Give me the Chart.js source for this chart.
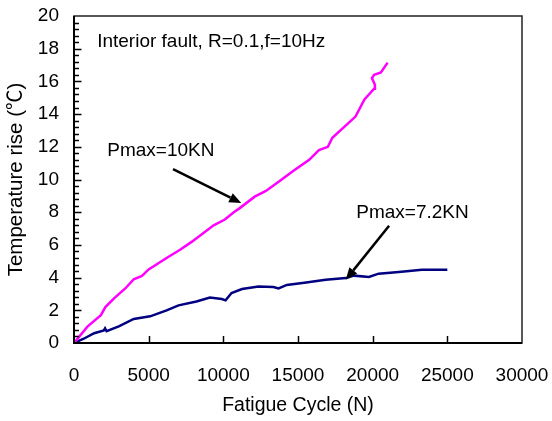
<!DOCTYPE html>
<html>
<head>
<meta charset="utf-8">
<script src="https://cdn.jsdelivr.net/npm/chart.js@4"></script>
<style>
  html, body { margin: 0; padding: 0; background: #fff; }
  #wrap { width: 552px; height: 421px; }
</style>
</head>
<body>
<div id="wrap"><canvas id="chart"></canvas></div>
<script>
// values
const cycles10 = [0, 900, 1800, 2100, 2700, 3450, 4000, 4550, 5000, 6200, 7100, 7900, 9350, 10100, 10700, 11100, 12100, 12850, 13750, 14650, 15750, 16400, 17000, 17300, 18850, 19450, 20100, 20150, 19950, 20100, 20550, 21000];
const rise10   = [0, 1.0, 1.7, 2.2, 2.75, 3.35, 3.9, 4.1, 4.5, 5.2, 5.7, 6.2, 7.2, 7.55, 8.0, 8.25, 8.95, 9.3, 9.9, 10.5, 11.2, 11.8, 12.0, 12.55, 13.85, 14.9, 15.55, 15.8, 16.2, 16.4, 16.55, 17.15];

const cycles72 = [0, 650, 1350, 2000, 2080, 2180, 3000, 4000, 5100, 6200, 7000, 8200, 9100, 9900, 10150, 10550, 11250, 12350, 13350, 13700, 14250, 15550, 16850, 18200, 18750, 19750, 20400, 21750, 23300, 25000];
const rise72   = [0, 0.26, 0.6, 0.77, 0.9, 0.72, 1.02, 1.47, 1.63, 2.0, 2.3, 2.54, 2.78, 2.69, 2.61, 3.06, 3.3, 3.46, 3.42, 3.34, 3.55, 3.7, 3.87, 3.97, 4.12, 4.04, 4.24, 4.34, 4.48, 4.48];

const xTicks = [0, 5000, 10000, 15000, 20000, 25000, 30000];
const yTicks = [0, 2, 4, 6, 8, 10, 12, 14, 16, 18, 20];

// labels and arrows, placed in data units
const notes = [
  { text: 'Interior fault, R=0.1,f=10Hz', x: 1550, y: 18.45 },
  { text: 'Pmax=10KN', x: 2230, y: 11.75 },
  { text: 'Pmax=7.2KN', x: 18900, y: 7.95 }
];
const arrows = [
  { from: [6630, 10.64], to: [11200, 8.56] },
  { from: [21100, 7.17], to: [18200, 3.87] }
];

const FONT = 'Liberation Sans, Arial, "Noto Sans CJK SC", sans-serif';

function toPoints(xs, ys) {
  return xs.map((x, i) => ({ x: x, y: ys[i] }));
}

const framePlugin = {
  id: 'frame',
  afterDraw(chart) {
    const ctx = chart.ctx;
    const a = chart.chartArea;
    const xs = chart.scales.x, ys = chart.scales.y;
    ctx.save();
    ctx.strokeStyle = '#000';

    // inside ticks on y: minor every 0.4, major every 2
    ctx.lineWidth = 1.5;
    for (let i = 1; i < 50; i++) {
      const v = i * 0.4;
      const py = Math.round(ys.getPixelForValue(v)) + 0.5;
      const len = (i % 5 === 0) ? 7.5 : 5;
      ctx.beginPath();
      ctx.moveTo(a.left, py);
      ctx.lineTo(a.left + len, py);
      ctx.stroke();
    }
    // inside ticks on x
    xTicks.slice(1, -1).forEach(v => {
      const px = Math.round(xs.getPixelForValue(v)) + 0.5;
      ctx.beginPath();
      ctx.moveTo(px, a.bottom);
      ctx.lineTo(px, a.bottom - 7);
      ctx.stroke();
    });

    // plot box
    ctx.lineWidth = 1.5;
    ctx.strokeStyle = '#222';
    ctx.strokeRect(a.left, a.top, a.right - a.left, a.bottom - a.top);
    ctx.strokeStyle = '#000';
    ctx.lineWidth = 2;
    ctx.beginPath();
    ctx.moveTo(a.left, a.top);
    ctx.lineTo(a.left, a.bottom);
    ctx.lineTo(a.right, a.bottom);
    ctx.stroke();

    // text notes
    ctx.fillStyle = '#000';
    ctx.font = '19px ' + FONT;
    ctx.textAlign = 'left';
    ctx.textBaseline = 'middle';
    notes.forEach(n => {
      ctx.fillText(n.text, xs.getPixelForValue(n.x), ys.getPixelForValue(n.y));
    });

    // arrows
    arrows.forEach(ar => {
      const x1 = xs.getPixelForValue(ar.from[0]), y1 = ys.getPixelForValue(ar.from[1]);
      const x2 = xs.getPixelForValue(ar.to[0]), y2 = ys.getPixelForValue(ar.to[1]);
      const ang = Math.atan2(y2 - y1, x2 - x1);
      const head = 12, half = 5;
      const bx = x2 - head * Math.cos(ang), by = y2 - head * Math.sin(ang);
      ctx.lineWidth = 2.5;
      ctx.beginPath();
      ctx.moveTo(x1, y1);
      ctx.lineTo(bx, by);
      ctx.stroke();
      ctx.beginPath();
      ctx.moveTo(x2, y2);
      ctx.lineTo(bx + half * Math.sin(ang), by - half * Math.cos(ang));
      ctx.lineTo(bx - half * Math.sin(ang), by + half * Math.cos(ang));
      ctx.closePath();
      ctx.fill();
    });
    ctx.restore();
  }
};

new Chart(document.getElementById('chart'), {
  type: 'line',
  data: {
    datasets: [
      {
        label: 'Pmax=10KN',
        data: toPoints(cycles10, rise10),
        borderColor: '#ff00ff',
        borderWidth: 2.5,
        pointRadius: 0,
        tension: 0
      },
      {
        label: 'Pmax=7.2KN',
        data: toPoints(cycles72, rise72),
        borderColor: '#000080',
        borderWidth: 2.5,
        pointRadius: 0,
        tension: 0
      }
    ]
  },
  options: {
    responsive: true,
    maintainAspectRatio: false,
    animation: false,
    layout: { padding: { top: 16, right: 30, left: 0, bottom: 0 } },
    plugins: {
      legend: { display: false },
      tooltip: { enabled: false }
    },
    scales: {
      x: {
        type: 'linear',
        min: 0,
        max: 30000,
        afterBuildTicks: s => { s.ticks = xTicks.map(v => ({ value: v })); },
        ticks: {
          color: '#000', font: { family: FONT, size: 19 }, padding: 21, autoSkip: false, maxRotation: 0,
          callback: v => String(v)
        },
        grid: { display: false, drawTicks: false },
        border: { display: false },
        title: {
          display: true,
          text: 'Fatigue Cycle (N)',
          color: '#000',
          font: { family: FONT, size: 19.5 },
          padding: { top: 0, bottom: 4 }
        },
        afterFit: s => { s.height = 78; s.paddingLeft = 0; s.paddingRight = 0; }
      },
      y: {
        type: 'linear',
        min: 0,
        max: 20,
        afterBuildTicks: s => { s.ticks = yTicks.map(v => ({ value: v })); },
        ticks: { color: '#000', font: { family: FONT, size: 19 }, padding: 15, autoSkip: false },
        grid: { display: false, drawTicks: false },
        border: { display: false },
        title: {
          display: true,
          text: 'Temperature rise (℃)',
          color: '#000',
          font: { family: FONT, size: 20.5 },
          padding: { top: 4, bottom: 0 }
        },
        afterFit: s => { s.width = 74; s.paddingTop = 0; s.paddingBottom = 0; }
      }
    }
  },
  plugins: [framePlugin]
});
</script>
</body>
</html>
